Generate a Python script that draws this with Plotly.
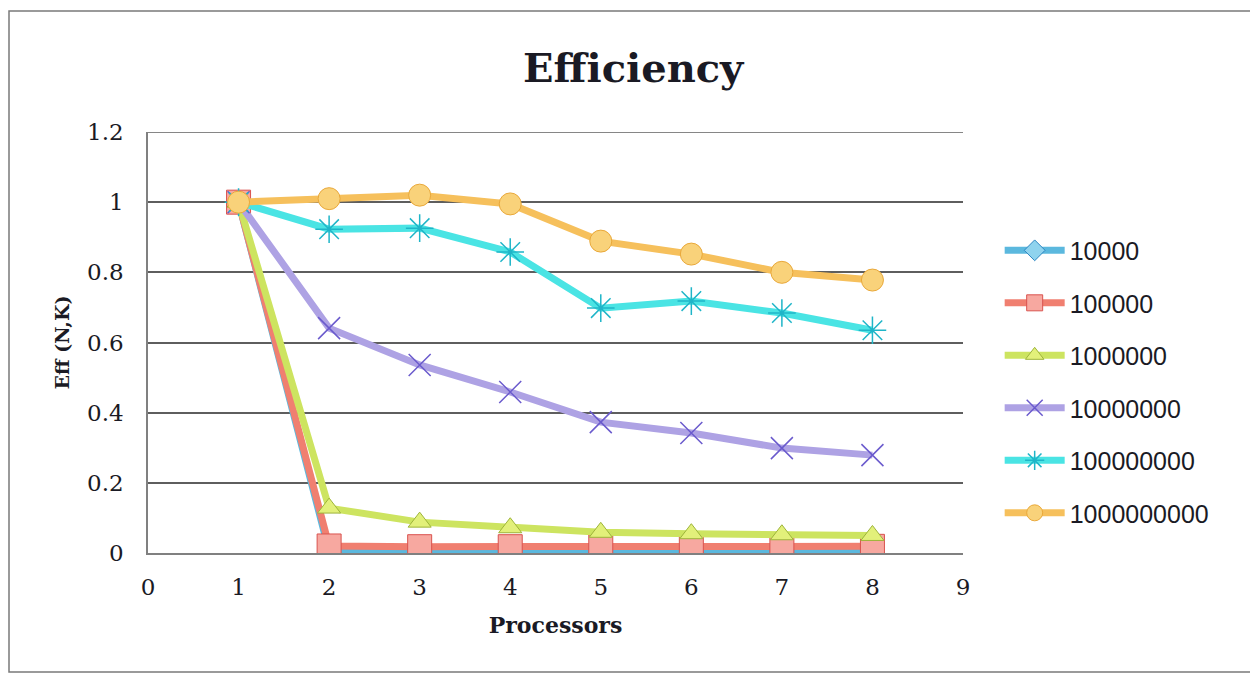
import plotly.graph_objects as go

processors = [1, 2, 3, 4, 5, 6, 7, 8]
series_names = ["10000", "100000", "1000000", "10000000", "100000000", "1000000000"]
eff_10000 = [1.0, 0.005, 0.004, 0.004, 0.004, 0.004, 0.004, 0.004]
eff_100000 = [1.0, 0.02, 0.018, 0.018, 0.017, 0.018, 0.018, 0.019]
eff_1000000 = [1.0, 0.128, 0.088, 0.072, 0.059, 0.055, 0.052, 0.05]
eff_10000000 = [1.0, 0.641, 0.536, 0.459, 0.373, 0.342, 0.299, 0.279]
eff_100000000 = [1.0, 0.923, 0.926, 0.858, 0.698, 0.718, 0.684, 0.635]
eff_1000000000 = [1.0, 1.01, 1.02, 0.995, 0.889, 0.852, 0.80, 0.778]
values = [eff_10000, eff_100000, eff_1000000, eff_10000000, eff_100000000, eff_1000000000]

y_ticks = [0, 0.2, 0.4, 0.6, 0.8, 1, 1.2]
y_ticktext = ["0", "0.2", "0.4", "0.6", "0.8", "1", "1.2"]
x_ticks = [0, 1, 2, 3, 4, 5, 6, 7, 8, 9]

line_colors = ["#5BB8DE", "#F07F70", "#CDE460", "#AEA2E4", "#4AE4E4", "#F6C05C"]
marker_fill = ["#8FD3EE", "#F7A8A0", "#E2F07A", "#AEA2E4", "#4AE4E4", "#F9D27A"]
marker_edge = ["#2E86C1", "#D9534F", "#9DB43A", "#6A5ACD", "#1FB5C8", "#E9A83A"]
symbols = ["diamond", "square", "triangle-up", "x-thin-open", "asterisk-open", "circle"]
sizes = [16, 24, 20, 22, 23, 22]

fig = go.Figure()
for i, name in enumerate(series_names):
    open_sym = symbols[i].endswith("open")
    fig.add_trace(go.Scatter(
        x=processors, y=values[i], name=name, mode="lines+markers",
        legendgroup=name,
        line=dict(color=line_colors[i], width=7),
        marker=dict(symbol=symbols[i], size=sizes[i],
                    color=marker_edge[i] if open_sym else marker_fill[i],
                    line=dict(color=marker_edge[i], width=1.5 if open_sym else 1)),
    ))

serif = "DejaVu Serif"
ink = "#1a1a24"
fig.update_layout(
    width=1258, height=677,
    paper_bgcolor="white", plot_bgcolor="white",
    margin=dict(l=140, r=303, t=124, b=132),
    title=dict(text="<b>Efficiency</b>", x=0.497, xanchor="center", y=0.911, yanchor="middle",
               font=dict(family=serif, size=40, color=ink)),
    xaxis=dict(range=[x_ticks[0], x_ticks[-1]], tickvals=x_ticks, showgrid=False, zeroline=False,
               showline=True, linecolor="#808080", linewidth=1.5, ticks="",
               ticklabelstandoff=13,
               tickfont=dict(family=serif, size=23, color=ink),
               title=dict(text="<b>Processors</b>", font=dict(family=serif, size=22, color=ink),
                          standoff=18)),
    yaxis=dict(range=[y_ticks[0], y_ticks[-1]], tickvals=y_ticks, ticktext=y_ticktext,
               showgrid=True, gridcolor="#5e5e5e", gridwidth=1.5, zeroline=False,
               showline=True, linecolor="#808080", linewidth=1.5, ticks="",
               ticklabelstandoff=18,
               tickfont=dict(family=serif, size=23, color=ink),
               title=dict(text="<b>Eff (N,K)</b>", font=dict(family=serif, size=19, color=ink),
                          standoff=12)),
    legend=dict(x=1.045, y=0.773, xanchor="left", yanchor="top",
                font=dict(family="Liberation Sans", size=25, color=ink),
                tracegroupgap=17, itemwidth=60, bgcolor="rgba(0,0,0,0)"),
    shapes=[
        dict(type="rect", xref="paper", yref="paper",
             x0=(9 - 148) / 815, x1=(1254 - 148) / 815,
             y0=(553 - 672) / 421, y1=(553 - 11) / 421,
             line=dict(color="#7a7a7a", width=1.5), fillcolor="rgba(0,0,0,0)", layer="below"),
        dict(type="line", xref="paper", yref="y", x0=0, x1=1, y0=y_ticks[-1], y1=y_ticks[-1],
             line=dict(color="#5e5e5e", width=1.5), layer="below"),
    ],
)
fig.write_html("out.html")
